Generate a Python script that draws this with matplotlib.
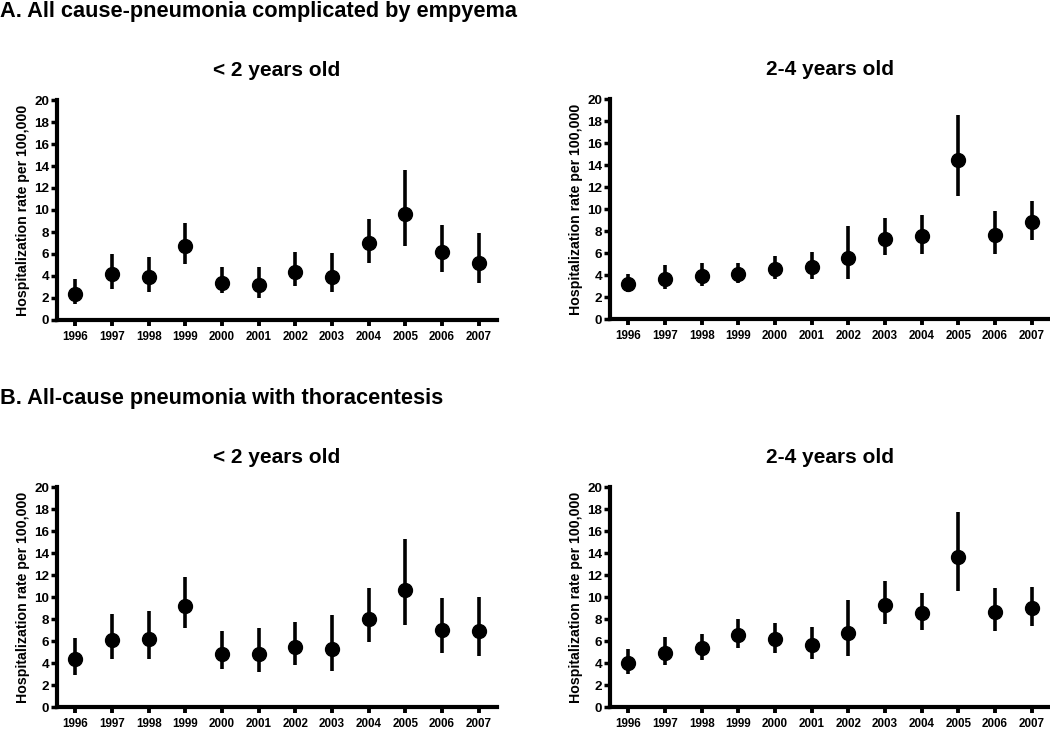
import matplotlib
matplotlib.use('Agg')
import matplotlib.pyplot as plt
import numpy as np

plt.rcParams['font.family'] = ['Liberation Sans', 'DejaVu Sans']
plt.rcParams['font.weight'] = 'bold'

years = np.arange(1996, 2008)

# A. empyema, < 2 years
a_young = [2.36, 4.18, 3.88, 6.73, 3.39, 3.15, 4.36, 3.94, 6.97, 9.61, 6.15, 5.21]
a_young_lo = [1.45, 2.85, 2.58, 5.09, 2.48, 2.03, 3.09, 2.52, 5.21, 6.73, 4.36, 3.39]
a_young_hi = [3.76, 6.00, 5.70, 8.85, 4.79, 4.85, 6.21, 6.06, 9.21, 13.64, 8.64, 7.94]

# A. empyema, 2-4 years
a_old = [3.22, 3.68, 3.95, 4.13, 4.59, 4.77, 5.56, 7.29, 7.54, 14.44, 7.60, 8.81]
a_old_lo = [2.43, 2.74, 3.04, 3.28, 3.65, 3.68, 3.68, 5.81, 5.93, 11.19, 5.87, 7.20]
a_old_hi = [4.13, 4.89, 5.11, 5.11, 5.71, 6.08, 8.45, 9.18, 9.45, 18.54, 9.85, 10.73]

# B. thoracentesis, < 2 years
b_young = [4.35, 6.05, 6.17, 9.21, 4.86, 4.80, 5.41, 5.26, 8.02, 10.67, 6.99, 6.87]
b_young_lo = [2.95, 4.32, 4.32, 7.17, 3.43, 3.16, 3.80, 3.25, 5.90, 7.45, 4.95, 4.65]
b_young_hi = [6.23, 8.42, 8.75, 11.82, 6.90, 7.17, 7.72, 8.33, 10.85, 15.29, 9.91, 10.03]

# B. thoracentesis, 2-4 years
b_old = [4.04, 4.92, 5.35, 6.57, 6.20, 5.62, 6.75, 9.30, 8.51, 13.68, 8.66, 8.97]
b_old_lo = [3.04, 3.80, 4.26, 5.32, 4.95, 4.38, 4.68, 7.51, 6.96, 10.58, 6.90, 7.39]
b_old_hi = [5.29, 6.38, 6.63, 7.99, 7.66, 7.23, 9.73, 11.46, 10.40, 17.69, 10.85, 10.94]

W, H = 1050, 729
fig = plt.figure(figsize=(W / 100, H / 100), dpi=100)


def panel(x0, y_bottom, vals, lo, hi, title):
    # pixel coords -> figure fraction
    ax = fig.add_axes([x0 / W, (H - y_bottom) / H, 440 / W, 220 / H])
    vals = np.array(vals)
    err = [vals - np.array(lo), np.array(hi) - vals]
    ax.errorbar(years, vals, yerr=err, fmt='o', color='black', ms=10,
                elinewidth=2.6, capsize=0, clip_on=False)
    ax.set_xlim(1995.5, 2007.5)
    ax.set_ylim(0, 20)
    ax.set_yticks(range(0, 21, 2))
    ax.set_xticks(years)
    ax.tick_params(axis='y', length=4, width=2.5, labelsize=9.7, pad=1.5)
    ax.tick_params(axis='x', length=4, width=2.8, labelsize=8.4, pad=4)
    for s in ['top', 'right']:
        ax.spines[s].set_visible(False)
    for s in ['left', 'bottom']:
        ax.spines[s].set_linewidth(3)
    ax.set_ylabel('Hospitalization rate per 100,000', fontsize=10.2,
                  fontweight='bold', labelpad=3)
    ax.set_title(title, fontsize=15, fontweight='bold', pad=17)
    return ax


panel(57, 320, a_young, a_young_lo, a_young_hi, '< 2 years old')
panel(610, 319, a_old, a_old_lo, a_old_hi, '2-4 years old')
panel(57, 707, b_young, b_young_lo, b_young_hi, '< 2 years old')
panel(610, 707, b_old, b_old_lo, b_old_hi, '2-4 years old')

fig.text(0, 1 - 11.5 / H, 'A. All cause-pneumonia complicated by empyema',
         fontsize=15.7, fontweight='bold', va='center', ha='left')
fig.text(0, 1 - 399 / H, 'B. All-cause pneumonia with thoracentesis',
         fontsize=15.7, fontweight='bold', va='center', ha='left')

fig.savefig('out.png', dpi=100)
